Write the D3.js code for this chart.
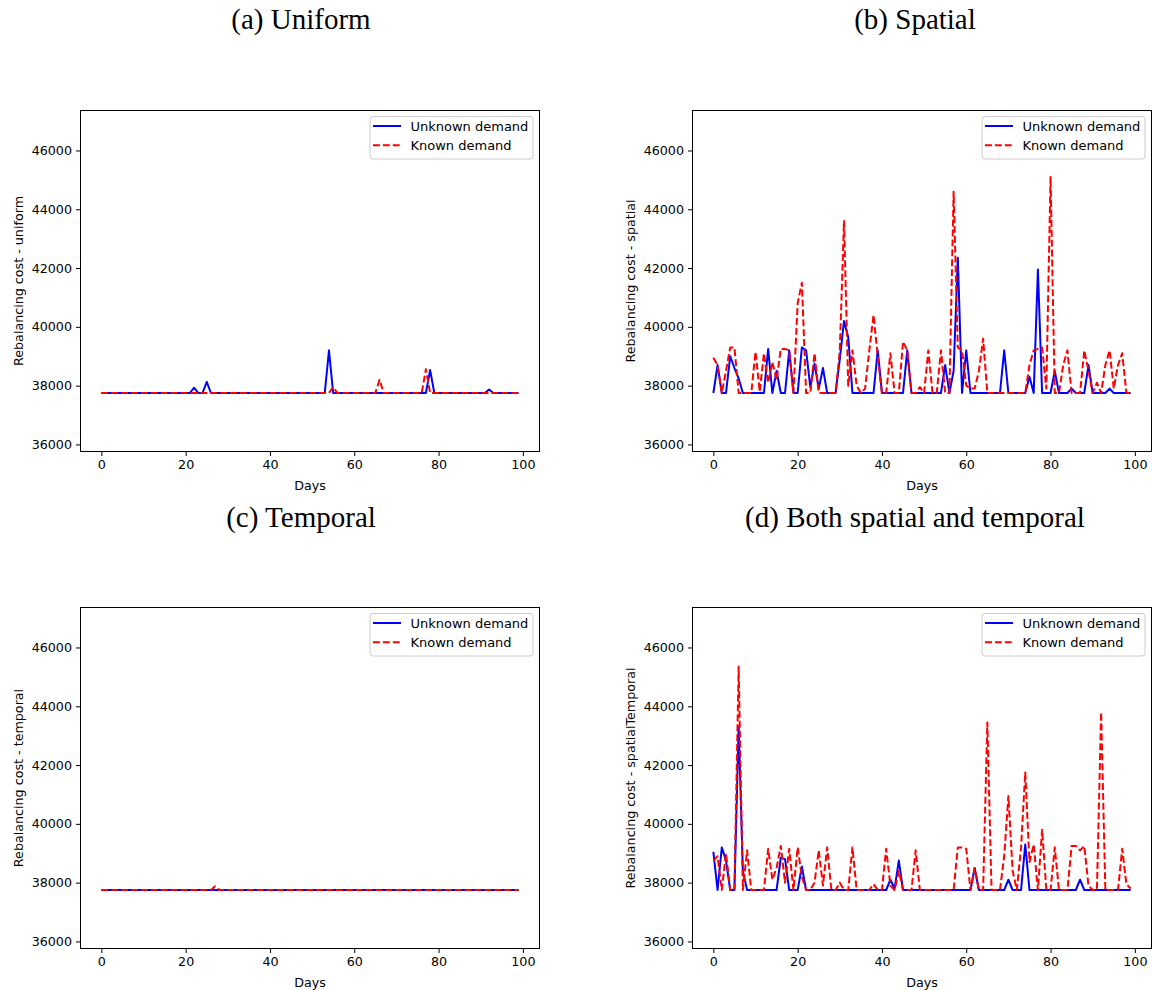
<!DOCTYPE html>
<html lang="en">

<head>
	<meta charset="UTF-8">
	<title>rebalancing cost</title>
	<script type="text/javascript" src="https://cdn.jsdelivr.net/npm/d3@7/dist/d3.min.js" charset="UTF-8"></script>
	<style>
		body { margin: 0; background: #fff; }
		text { font-family: "DejaVu Sans", sans-serif; }
	</style>
</head>

<body>
	<script type="text/javascript">
	// days 0..99 on the x axis
	let days = d3.range(100)
	let xTicks = [0, 20, 40, 60, 80, 100]
	let yTicks = [36000, 38000, 40000, 42000, 44000, 46000]
	let seriesNames = ['Unknown demand', 'Known demand']

	let titles = ['(a) Uniform', '(b) Spatial', '(c) Temporal', '(d) Both spatial and temporal']
	let yLabels = ['Rebalancing cost - uniform', 'Rebalancing cost - spatial',
		'Rebalancing cost - temporal', 'Rebalancing cost - spatialTemporal']

	let uniformUnknown = [
		37750, 37750, 37750, 37750, 37750, 37750, 37750, 37750, 37750, 37750,
		37750, 37750, 37750, 37750, 37750, 37750, 37750, 37750, 37750, 37750,
		37750, 37750, 37930, 37750, 37750, 38130, 37750, 37750, 37750, 37750,
		37750, 37750, 37750, 37750, 37750, 37750, 37750, 37750, 37750, 37750,
		37750, 37750, 37750, 37750, 37750, 37750, 37750, 37750, 37750, 37750,
		37750, 37750, 37750, 37750, 39200, 37750, 37750, 37750, 37750, 37750,
		37750, 37750, 37750, 37750, 37750, 37750, 37750, 37750, 37750, 37750,
		37750, 37750, 37750, 37750, 37750, 37750, 37750, 37750, 38530, 37750,
		37750, 37750, 37750, 37750, 37750, 37750, 37750, 37750, 37750, 37750,
		37750, 37750, 37870, 37750, 37750, 37750, 37750, 37750, 37750, 37750
	]
	let uniformKnown = [
		37750, 37750, 37750, 37750, 37750, 37750, 37750, 37750, 37750, 37750,
		37750, 37750, 37750, 37750, 37750, 37750, 37750, 37750, 37750, 37750,
		37750, 37750, 37750, 37750, 37750, 37750, 37750, 37750, 37750, 37750,
		37750, 37750, 37750, 37750, 37750, 37750, 37750, 37750, 37750, 37750,
		37750, 37750, 37750, 37750, 37750, 37750, 37750, 37750, 37750, 37750,
		37750, 37750, 37750, 37750, 37750, 37950, 37750, 37750, 37750, 37750,
		37750, 37750, 37750, 37750, 37750, 37750, 38200, 37750, 37750, 37750,
		37750, 37750, 37750, 37750, 37750, 37750, 37750, 38560, 37750, 37750,
		37750, 37750, 37750, 37750, 37750, 37750, 37750, 37750, 37750, 37750,
		37750, 37750, 37750, 37750, 37750, 37750, 37750, 37750, 37750, 37750
	]

	let spatialUnknown = [
		37750, 38700, 37750, 37750, 39000, 38600, 38250, 37750, 37750, 37750,
		37750, 37750, 37750, 39250, 37750, 38500, 37750, 37750, 39200, 37750,
		37750, 39300, 39200, 37950, 38750, 37900, 38600, 37750, 37750, 37750,
		38900, 40200, 39650, 37750, 37750, 37750, 37750, 37750, 37750, 39200,
		37750, 37750, 37750, 37750, 37750, 37750, 39200, 37750, 37750, 37750,
		37750, 37750, 37750, 37750, 37750, 38700, 37750, 38500, 42350, 37750,
		39200, 37750, 37750, 37750, 37750, 37750, 37750, 37750, 37750, 39200,
		37750, 37750, 37750, 37750, 37750, 38300, 37750, 41950, 37750, 37750,
		37750, 38500, 37750, 37750, 37750, 37900, 37750, 37750, 37750, 38700,
		37750, 37750, 37750, 37750, 37900, 37750, 37750, 37750, 37750, 37750
	]
	let spatialKnown = [
		38950, 38700, 37750, 38500, 39300, 39300, 37750, 37750, 37750, 37750,
		39150, 37800, 39100, 38100, 38800, 38200, 39250, 39250, 39200, 37750,
		40800, 41500, 37750, 37750, 39100, 37750, 37750, 37750, 37750, 37750,
		39200, 43600, 38000, 39200, 38000, 37750, 37900, 39200, 40400, 39000,
		37750, 37750, 39100, 37750, 37750, 39500, 39200, 37750, 37750, 37950,
		37750, 39200, 37750, 37750, 39200, 37750, 37750, 44600, 39300, 39200,
		38000, 37900, 37900, 38500, 39600, 37750, 37750, 37750, 37750, 37750,
		37750, 37750, 37750, 37750, 37750, 38700, 39200, 39250, 39300, 37900,
		45100, 37750, 37750, 38700, 39200, 37750, 37750, 37750, 39200, 38500,
		37750, 38100, 37750, 38700, 39200, 37900, 38700, 39100, 37750, 37750
	]

	let temporalUnknown = [
		37750, 37750, 37750, 37750, 37750, 37750, 37750, 37750, 37750, 37750,
		37750, 37750, 37750, 37750, 37750, 37750, 37750, 37750, 37750, 37750,
		37750, 37750, 37750, 37750, 37750, 37750, 37750, 37750, 37750, 37750,
		37750, 37750, 37750, 37750, 37750, 37750, 37750, 37750, 37750, 37750,
		37750, 37750, 37750, 37750, 37750, 37750, 37750, 37750, 37750, 37750,
		37750, 37750, 37750, 37750, 37750, 37750, 37750, 37750, 37750, 37750,
		37750, 37750, 37750, 37750, 37750, 37750, 37750, 37750, 37750, 37750,
		37750, 37750, 37750, 37750, 37750, 37750, 37750, 37750, 37750, 37750,
		37750, 37750, 37750, 37750, 37750, 37750, 37750, 37750, 37750, 37750,
		37750, 37750, 37750, 37750, 37750, 37750, 37750, 37750, 37750, 37750
	]
	let temporalKnown = [
		37750, 37750, 37750, 37750, 37750, 37750, 37750, 37750, 37750, 37750,
		37750, 37750, 37750, 37750, 37750, 37750, 37750, 37750, 37750, 37750,
		37750, 37750, 37750, 37750, 37750, 37750, 37750, 37880, 37750, 37750,
		37750, 37750, 37750, 37750, 37750, 37750, 37750, 37750, 37750, 37750,
		37750, 37750, 37750, 37750, 37750, 37750, 37750, 37750, 37750, 37750,
		37750, 37750, 37750, 37750, 37750, 37750, 37750, 37750, 37750, 37750,
		37750, 37750, 37750, 37750, 37750, 37750, 37750, 37750, 37750, 37750,
		37750, 37750, 37750, 37750, 37750, 37750, 37750, 37750, 37750, 37750,
		37750, 37750, 37750, 37750, 37750, 37750, 37750, 37750, 37750, 37750,
		37750, 37750, 37750, 37750, 37750, 37750, 37750, 37750, 37750, 37750
	]

	let bothUnknown = [
		39050, 37750, 39200, 38750, 37750, 37750, 43300, 38400, 37750, 37750,
		37750, 37750, 37750, 37750, 37750, 37750, 38850, 38800, 37750, 37750,
		37750, 38550, 37750, 37750, 37750, 37750, 37750, 37750, 37750, 37750,
		37750, 37750, 37750, 37750, 37750, 37750, 37750, 37750, 37750, 37750,
		37750, 37750, 38100, 37800, 38750, 37750, 37750, 37750, 37750, 37750,
		37750, 37750, 37750, 37750, 37750, 37750, 37750, 37750, 37750, 37750,
		37750, 37750, 38500, 37750, 37750, 37750, 37750, 37750, 37750, 37750,
		38100, 37750, 37750, 37750, 39300, 37750, 37750, 37750, 37750, 37750,
		37750, 37750, 37750, 37750, 37750, 37750, 37750, 38100, 37750, 37750,
		37750, 37750, 37750, 37750, 37750, 37750, 37750, 37750, 37750, 37750
	]
	let bothKnown = [
		38750, 38900, 37750, 39000, 37750, 37750, 45350, 37750, 39100, 37750,
		37750, 37750, 37750, 39150, 38100, 38500, 39250, 38000, 39150, 37750,
		39200, 38200, 37750, 37750, 38000, 39100, 37900, 39200, 37750, 37750,
		38000, 37750, 37750, 39200, 37750, 37750, 37750, 37750, 37950, 37750,
		37750, 39150, 37900, 37750, 38400, 37750, 37750, 37750, 39100, 37750,
		37750, 37750, 37750, 37750, 37750, 37750, 37750, 37750, 39200, 39200,
		39150, 37750, 38500, 37750, 37750, 43450, 37750, 37750, 37750, 38900,
		40950, 38400, 37750, 39200, 41750, 38700, 39300, 37750, 39800, 37750,
		37750, 39200, 37750, 37750, 37750, 39250, 39250, 39100, 39250, 37900,
		37750, 37750, 43800, 37750, 37750, 37750, 37750, 39150, 37950, 37800
	]

	let width = 1152, height = 990

	let svg = d3.select('body').append('svg')
		.attr('width', width)
		.attr('height', height)

	// panel boxes: left, top, right, bottom
	let boxes = [
		[80.5, 110.5, 539.5, 451.5],
		[692.5, 110.5, 1151.5, 451.5],
		[80.5, 607.5, 539.5, 948.5],
		[692.5, 607.5, 1151.5, 948.5]
	]
	let titlePos = [[301, 29], [915, 29], [301, 527], [915, 527]]
	let unknownSets = [uniformUnknown, spatialUnknown, temporalUnknown, bothUnknown]
	let knownSets = [uniformKnown, spatialKnown, temporalKnown, bothKnown]

	boxes.forEach((b, i) => {
		let [x0, y0, x1, y1] = b

		let x = d3.scaleLinear().domain([-4.95, 103.95]).range([x0, x1])
		let y = d3.scaleLinear().domain([35760, 47360]).range([y1, y0])

		let g = svg.append('g')

		// title above the panel
		svg.append('text')
			.attr('x', titlePos[i][0])
			.attr('y', titlePos[i][1])
			.attr('text-anchor', 'middle')
			.style('font-family', '"Liberation Serif", "Times New Roman", serif')
			.style('font-size', '29px')
			.text(titles[i])

		g.append('clipPath').attr('id', 'clip' + i)
			.append('rect')
			.attr('x', x0).attr('y', y0)
			.attr('width', x1 - x0).attr('height', y1 - y0)

		let xAxis = g.append('g')
			.attr('transform', `translate(0,${y1})`)
			.call(d3.axisBottom(x).tickValues(xTicks).tickSize(4.5).tickPadding(4).tickSizeOuter(0))
		let yAxis = g.append('g')
			.attr('transform', `translate(${x0},0)`)
			.call(d3.axisLeft(y).tickValues(yTicks).tickFormat(d3.format('d'))
				.tickSize(4.5).tickPadding(4).tickSizeOuter(0))

		;[xAxis, yAxis].forEach(a => {
			a.select('.domain').remove()
			a.selectAll('text')
				.style('font-family', '"DejaVu Sans", sans-serif')
				.style('font-size', '12.7px')
				.attr('fill', '#000')
			a.selectAll('line').attr('stroke', '#000').attr('stroke-width', 1)
		})

		let line = d3.line()
			.x((d, j) => x(days[j]))
			.y(d => y(d))

		let plot = g.append('g').attr('clip-path', `url(#clip${i})`)

		plot.append('path')
			.attr('d', line(unknownSets[i]))
			.attr('fill', 'none')
			.attr('stroke', '#0000ff')
			.attr('stroke-width', 2)
			.attr('stroke-linejoin', 'round')

		plot.append('path')
			.attr('d', line(knownSets[i]))
			.attr('fill', 'none')
			.attr('stroke', '#ff0000')
			.attr('stroke-width', 2)
			.attr('stroke-dasharray', '6.9,3')
			.attr('stroke-linejoin', 'round')

		g.append('rect')
			.attr('x', x0).attr('y', y0)
			.attr('width', x1 - x0).attr('height', y1 - y0)
			.attr('fill', 'none')
			.attr('stroke', '#000')
			.attr('stroke-width', 1)

		// axis labels
		g.append('text')
			.attr('x', (x0 + x1) / 2)
			.attr('y', y1 + 38)
			.attr('text-anchor', 'middle')
			.style('font-size', '12.7px')
			.text('Days')

		g.append('text')
			.attr('transform', `translate(${x0 - 62},${(y0 + y1) / 2}) rotate(-90)`)
			.attr('text-anchor', 'middle')
			.attr('dominant-baseline', 'central')
			.style('font-size', '12.7px')
			.text(yLabels[i])

		// legend, upper right
		let lg = g.append('g').attr('transform', `translate(${x1 - 169.5},${y0 + 6})`)
		lg.append('rect')
			.attr('width', 163).attr('height', 42.5)
			.attr('rx', 3)
			.attr('fill', '#fff').attr('fill-opacity', 0.8)
			.attr('stroke', '#ccc').attr('stroke-width', 1)
		seriesNames.forEach((name, k) => {
			let yy = 9.5 + k * 19.3
			lg.append('line')
				.attr('x1', 3).attr('x2', 31)
				.attr('y1', yy).attr('y2', yy)
				.attr('stroke', k == 0 ? '#0000ff' : '#ff0000')
				.attr('stroke-width', 2)
				.attr('stroke-dasharray', k == 0 ? null : '6.9,3')
			lg.append('text')
				.attr('x', 40.5).attr('y', yy)
				.attr('dominant-baseline', 'central')
				.style('font-size', '13px')
				.text(name)
		})
	})
	</script>
</body>

</html>
